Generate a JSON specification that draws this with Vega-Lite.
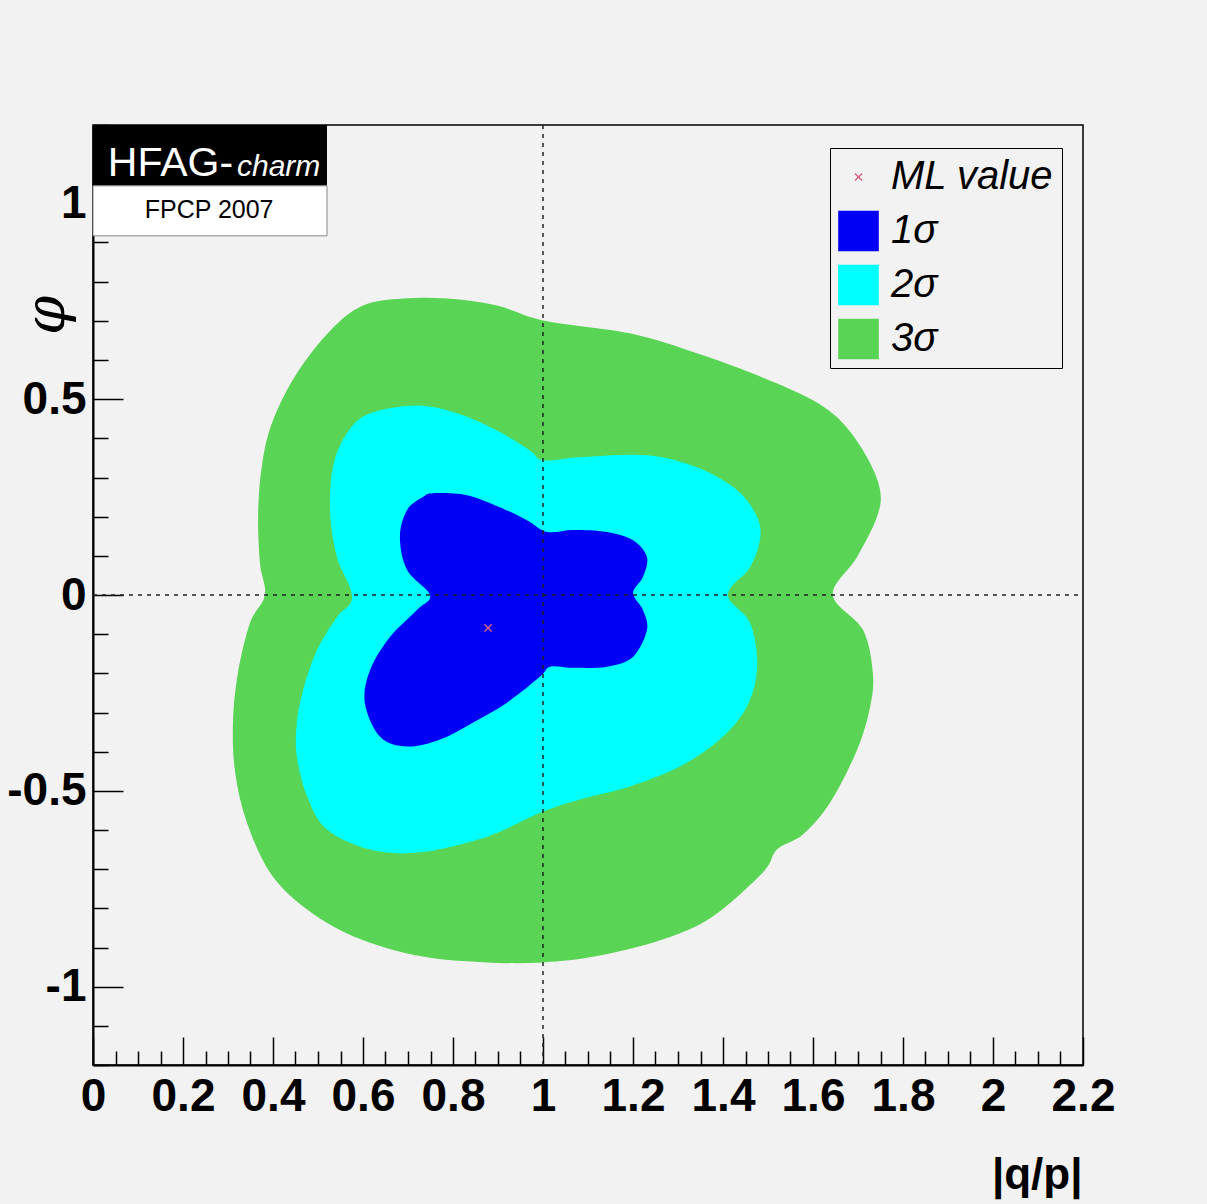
{
  "$schema": "https://vega.github.io/schema/vega-lite/v6.json",
  "width": 990,
  "height": 940,
  "autosize": {"type": "none"},
  "padding": {"left": 93, "top": 125, "right": 124, "bottom": 139},
  "background": "#f2f2f2",
  "config": {
    "view": {"stroke": "#000", "strokeWidth": 1.5, "fill": "#f2f2f2"},
    "font": "Liberation Sans",
    "legend": {
      "orient": "none", "legendX": 737, "legendY": 23,
      "fillColor": "#f2f2f2", "strokeColor": "#000", "padding": 8,
      "labelFont": "Liberation Sans", "labelFontSize": 40, "labelFontStyle": "italic", "labelColor": "#000",
      "labelOffset": 12, "labelLimit": 400,
      "symbolSize": 1650, "symbolStrokeWidth": 0, "symbolOpacity": 1,
      "rowPadding": 12, "clipHeight": 42
    }
  },
  "datasets": {
    "contours": [
      {"level": "3σ", "i": 0, "q": 0.689, "phi": 0.757},
      {"level": "3σ", "i": 1, "q": 0.787, "phi": 0.757},
      {"level": "3σ", "i": 2, "q": 0.898, "phi": 0.739},
      {"level": "3σ", "i": 3, "q": 1.0, "phi": 0.701},
      {"level": "3σ", "i": 4, "q": 1.193, "phi": 0.668},
      {"level": "3σ", "i": 5, "q": 1.342, "phi": 0.617},
      {"level": "3σ", "i": 6, "q": 1.489, "phi": 0.555},
      {"level": "3σ", "i": 7, "q": 1.6, "phi": 0.497},
      {"level": "3σ", "i": 8, "q": 1.667, "phi": 0.438},
      {"level": "3σ", "i": 9, "q": 1.72, "phi": 0.352},
      {"level": "3σ", "i": 10, "q": 1.749, "phi": 0.268},
      {"level": "3σ", "i": 11, "q": 1.742, "phi": 0.199},
      {"level": "3σ", "i": 12, "q": 1.698, "phi": 0.097},
      {"level": "3σ", "i": 13, "q": 1.644, "phi": 0.0},
      {"level": "3σ", "i": 14, "q": 1.711, "phi": -0.089},
      {"level": "3σ", "i": 15, "q": 1.733, "phi": -0.199},
      {"level": "3σ", "i": 16, "q": 1.727, "phi": -0.285},
      {"level": "3σ", "i": 17, "q": 1.698, "phi": -0.395},
      {"level": "3σ", "i": 18, "q": 1.638, "phi": -0.53},
      {"level": "3σ", "i": 19, "q": 1.578, "phi": -0.611},
      {"level": "3σ", "i": 20, "q": 1.52, "phi": -0.65},
      {"level": "3σ", "i": 21, "q": 1.489, "phi": -0.708},
      {"level": "3σ", "i": 22, "q": 1.378, "phi": -0.82},
      {"level": "3σ", "i": 23, "q": 1.267, "phi": -0.879},
      {"level": "3σ", "i": 24, "q": 1.12, "phi": -0.922},
      {"level": "3σ", "i": 25, "q": 1.0, "phi": -0.938},
      {"level": "3σ", "i": 26, "q": 0.876, "phi": -0.938},
      {"level": "3σ", "i": 27, "q": 0.727, "phi": -0.922},
      {"level": "3σ", "i": 28, "q": 0.578, "phi": -0.871},
      {"level": "3σ", "i": 29, "q": 0.467, "phi": -0.795},
      {"level": "3σ", "i": 30, "q": 0.393, "phi": -0.708},
      {"level": "3σ", "i": 31, "q": 0.342, "phi": -0.581},
      {"level": "3σ", "i": 32, "q": 0.316, "phi": -0.454},
      {"level": "3σ", "i": 33, "q": 0.311, "phi": -0.326},
      {"level": "3σ", "i": 34, "q": 0.322, "phi": -0.199},
      {"level": "3σ", "i": 35, "q": 0.349, "phi": -0.071},
      {"level": "3σ", "i": 36, "q": 0.382, "phi": 0.0},
      {"level": "3σ", "i": 37, "q": 0.371, "phi": 0.082},
      {"level": "3σ", "i": 38, "q": 0.367, "phi": 0.209},
      {"level": "3σ", "i": 39, "q": 0.376, "phi": 0.336},
      {"level": "3σ", "i": 40, "q": 0.4, "phi": 0.446},
      {"level": "3σ", "i": 41, "q": 0.453, "phi": 0.566},
      {"level": "3σ", "i": 42, "q": 0.527, "phi": 0.675},
      {"level": "3σ", "i": 43, "q": 0.6, "phi": 0.739},
      {"level": "2σ", "i": 0, "q": 0.72, "phi": 0.484},
      {"level": "2σ", "i": 1, "q": 0.809, "phi": 0.464},
      {"level": "2σ", "i": 2, "q": 0.898, "phi": 0.42},
      {"level": "2σ", "i": 3, "q": 0.971, "phi": 0.369},
      {"level": "2σ", "i": 4, "q": 1.0, "phi": 0.344},
      {"level": "2σ", "i": 5, "q": 1.082, "phi": 0.352},
      {"level": "2σ", "i": 6, "q": 1.231, "phi": 0.357},
      {"level": "2σ", "i": 7, "q": 1.342, "phi": 0.326},
      {"level": "2σ", "i": 8, "q": 1.431, "phi": 0.268},
      {"level": "2σ", "i": 9, "q": 1.476, "phi": 0.199},
      {"level": "2σ", "i": 10, "q": 1.482, "phi": 0.14},
      {"level": "2σ", "i": 11, "q": 1.46, "phi": 0.071},
      {"level": "2σ", "i": 12, "q": 1.411, "phi": 0.0},
      {"level": "2σ", "i": 13, "q": 1.46, "phi": -0.071},
      {"level": "2σ", "i": 14, "q": 1.476, "phi": -0.183},
      {"level": "2σ", "i": 15, "q": 1.453, "phi": -0.285},
      {"level": "2σ", "i": 16, "q": 1.393, "phi": -0.369},
      {"level": "2σ", "i": 17, "q": 1.304, "phi": -0.438},
      {"level": "2σ", "i": 18, "q": 1.193, "phi": -0.489},
      {"level": "2σ", "i": 19, "q": 1.082, "phi": -0.522},
      {"level": "2σ", "i": 20, "q": 1.0, "phi": -0.553},
      {"level": "2σ", "i": 21, "q": 0.876, "phi": -0.617},
      {"level": "2σ", "i": 22, "q": 0.727, "phi": -0.657},
      {"level": "2σ", "i": 23, "q": 0.616, "phi": -0.65},
      {"level": "2σ", "i": 24, "q": 0.52, "phi": -0.599},
      {"level": "2σ", "i": 25, "q": 0.476, "phi": -0.515},
      {"level": "2σ", "i": 26, "q": 0.453, "phi": -0.413},
      {"level": "2σ", "i": 27, "q": 0.453, "phi": -0.326},
      {"level": "2σ", "i": 28, "q": 0.467, "phi": -0.242},
      {"level": "2σ", "i": 29, "q": 0.498, "phi": -0.14},
      {"level": "2σ", "i": 30, "q": 0.542, "phi": -0.056},
      {"level": "2σ", "i": 31, "q": 0.576, "phi": -0.005},
      {"level": "2σ", "i": 32, "q": 0.542, "phi": 0.097},
      {"level": "2σ", "i": 33, "q": 0.527, "phi": 0.209},
      {"level": "2σ", "i": 34, "q": 0.533, "phi": 0.326},
      {"level": "2σ", "i": 35, "q": 0.564, "phi": 0.413},
      {"level": "2σ", "i": 36, "q": 0.616, "phi": 0.464},
      {"level": "1σ", "i": 0, "q": 0.756, "phi": 0.26},
      {"level": "1σ", "i": 1, "q": 0.831, "phi": 0.255},
      {"level": "1σ", "i": 2, "q": 0.904, "phi": 0.224},
      {"level": "1σ", "i": 3, "q": 0.964, "phi": 0.191},
      {"level": "1σ", "i": 4, "q": 1.009, "phi": 0.161},
      {"level": "1σ", "i": 5, "q": 1.067, "phi": 0.166},
      {"level": "1σ", "i": 6, "q": 1.142, "phi": 0.161},
      {"level": "1σ", "i": 7, "q": 1.2, "phi": 0.14},
      {"level": "1σ", "i": 8, "q": 1.231, "phi": 0.097},
      {"level": "1σ", "i": 9, "q": 1.222, "phi": 0.046},
      {"level": "1σ", "i": 10, "q": 1.2, "phi": 0.005},
      {"level": "1σ", "i": 11, "q": 1.222, "phi": -0.038},
      {"level": "1σ", "i": 12, "q": 1.231, "phi": -0.089},
      {"level": "1σ", "i": 13, "q": 1.2, "phi": -0.158},
      {"level": "1σ", "i": 14, "q": 1.142, "phi": -0.183},
      {"level": "1σ", "i": 15, "q": 1.067, "phi": -0.186},
      {"level": "1σ", "i": 16, "q": 1.016, "phi": -0.183},
      {"level": "1σ", "i": 17, "q": 0.993, "phi": -0.209},
      {"level": "1σ", "i": 18, "q": 0.92, "phi": -0.275},
      {"level": "1σ", "i": 19, "q": 0.844, "phi": -0.326},
      {"level": "1σ", "i": 20, "q": 0.771, "phi": -0.369},
      {"level": "1σ", "i": 21, "q": 0.698, "phi": -0.387},
      {"level": "1σ", "i": 22, "q": 0.638, "phi": -0.362},
      {"level": "1σ", "i": 23, "q": 0.604, "phi": -0.275},
      {"level": "1σ", "i": 24, "q": 0.616, "phi": -0.191},
      {"level": "1σ", "i": 25, "q": 0.66, "phi": -0.107},
      {"level": "1σ", "i": 26, "q": 0.72, "phi": -0.038},
      {"level": "1σ", "i": 27, "q": 0.749, "phi": 0.0},
      {"level": "1σ", "i": 28, "q": 0.698, "phi": 0.064},
      {"level": "1σ", "i": 29, "q": 0.682, "phi": 0.148},
      {"level": "1σ", "i": 30, "q": 0.698, "phi": 0.217},
      {"level": "1σ", "i": 31, "q": 0.733, "phi": 0.25}
    ],
    "ml": [{"level": "ML value", "q": 0.878, "phi": -0.084}],
    "vline": [{"q": 1, "phi": -1.2, "phi2": 1.2}],
    "hline": [{"q": 0, "q2": 2.2, "phi": 0}],
    "head": [{"q": 0, "q2": 0.52, "phi": 1.2, "phi2": 1.0446}],
    "foot": [{"q": 0, "q2": 0.52, "phi": 1.0446, "phi2": 0.917}],
    "hfag": [{"label": "HFAG-", "q": 0.033, "phi": 1.07}],
    "charm": [{"label": "charm", "q": 0.32, "phi": 1.07}],
    "fpcp": [{"label": "FPCP 2007", "q": 0.258, "phi": 0.962}]
  },
  "encoding": {
    "x": {
      "field": "q", "type": "quantitative",
      "scale": {"domain": [0, 2.2], "nice": false, "zero": false},
      "axis": {
        "title": "|q/p|",
        "values": [0,0.05,0.1,0.15,0.2,0.25,0.3,0.35,0.4,0.45,0.5,0.55,0.6,0.65,0.7,0.75,0.8,0.85,0.9,0.95,1,1.05,1.1,1.15,1.2,1.25,1.3,1.35,1.4,1.45,1.5,1.55,1.6,1.65,1.7,1.75,1.8,1.85,1.9,1.95,2,2.05,2.1,2.15,2.2],
        "labelExpr": "abs(datum.value*5-round(datum.value*5))<0.001 ? ('' + datum.value) : ''",
        "tickSize": {"condition": {"test": "abs(datum.value*5-round(datum.value*5))<0.001", "value": -28}, "value": -14},
        "tickColor": "#000", "tickWidth": 1.5,
        "domainColor": "#000", "domainWidth": 2,
        "grid": false,
        "labelFont": "Liberation Sans", "labelFontSize": 46, "labelFontWeight": "bold", "labelColor": "#000",
        "labelPadding": 37, "labelFlush": false, "labelOverlap": false, "labelBound": false,
        "titleFont": "Liberation Sans", "titleFontSize": 44, "titleFontWeight": "bold", "titleColor": "#000",
        "titleAnchor": "end", "titleAlign": "right", "titleBaseline": "alphabetic",
        "titleX": 989, "titleY": 123
      }
    },
    "y": {
      "field": "phi", "type": "quantitative",
      "scale": {"domain": [-1.2, 1.2], "nice": false, "zero": false},
      "axis": {
        "title": "φ",
        "values": [-1.2,-1.1,-1,-0.9,-0.8,-0.7,-0.6,-0.5,-0.4,-0.3,-0.2,-0.1,0,0.1,0.2,0.3,0.4,0.5,0.6,0.7,0.8,0.9,1,1.1,1.2],
        "labelExpr": "abs(datum.value*2-round(datum.value*2))<0.001 ? ('' + datum.value) : ''",
        "tickSize": {"condition": {"test": "abs(datum.value*2-round(datum.value*2))<0.001", "value": -30}, "value": -15},
        "tickColor": "#000", "tickWidth": 1.5,
        "domainColor": "#000", "domainWidth": 2,
        "grid": false,
        "labelFont": "Liberation Sans", "labelFontSize": 46, "labelFontWeight": "bold", "labelColor": "#000",
        "labelPadding": 37, "labelFlush": false, "labelOverlap": false, "labelBound": false,
        "titleFont": "DejaVu Serif", "titleFontSize": 56, "titleFontWeight": "normal", "titleFontStyle": "italic", "titleColor": "#000",
        "titleAngle": 270, "titleAlign": "center", "titleBaseline": "middle",
        "titleX": -47, "titleY": 190
      }
    }
  },
  "layer": [
    {
      "data": {"name": "contours"},
      "mark": {"type": "line", "interpolate": "cardinal-closed", "strokeWidth": 0},
      "encoding": {
        "fill": {
          "field": "level", "type": "nominal",
          "scale": {"domain": ["ML value", "1σ", "2σ", "3σ"], "range": ["#d86080", "#0000f5", "#00ffff", "#59d454"]},
          "legend": {"title": null}
        },
        "order": {"field": "i", "type": "quantitative"}
      }
    },
    {
      "data": {"name": "vline"},
      "mark": {"type": "rule", "color": "#222", "strokeDash": [4, 5], "strokeWidth": 1.5},
      "encoding": {"y2": {"field": "phi2"}}
    },
    {
      "data": {"name": "hline"},
      "mark": {"type": "rule", "color": "#222", "strokeDash": [4, 5], "strokeWidth": 1.5},
      "encoding": {"x2": {"field": "q2"}}
    },
    {
      "data": {"name": "ml"},
      "mark": {"type": "point", "size": 1650, "filled": true, "opacity": 1, "strokeWidth": 0},
      "encoding": {
        "fill": {
          "field": "level", "type": "nominal",
          "scale": {"domain": ["ML value", "1σ", "2σ", "3σ"], "range": ["#d86080", "#0000f5", "#00ffff", "#59d454"]},
          "legend": {"title": null}
        },
        "shape": {
          "field": "level", "type": "nominal",
          "scale": {"domain": ["ML value", "1σ", "2σ", "3σ"], "range": ["M-0.2,-0.15L-0.15,-0.2L0,-0.05L0.15,-0.2L0.2,-0.15L0.05,0L0.2,0.15L0.15,0.2L0,0.05L-0.15,0.2L-0.2,0.15L-0.05,0Z", "square", "square", "square"]},
          "legend": {"title": null}
        }
      }
    },
    {
      "data": {"name": "head"},
      "mark": {"type": "rect", "fill": "#000"},
      "encoding": {"x2": {"field": "q2"}, "y2": {"field": "phi2"}}
    },
    {
      "data": {"name": "foot"},
      "mark": {"type": "rect", "fill": "#fff", "stroke": "#888", "strokeWidth": 1},
      "encoding": {"x2": {"field": "q2"}, "y2": {"field": "phi2"}}
    },
    {
      "data": {"name": "hfag"},
      "mark": {"type": "text", "font": "Liberation Sans", "fontSize": 41, "color": "#fff", "align": "left", "baseline": "alphabetic"},
      "encoding": {"text": {"field": "label"}}
    },
    {
      "data": {"name": "charm"},
      "mark": {"type": "text", "font": "Liberation Sans", "fontSize": 30, "fontStyle": "italic", "color": "#fff", "align": "left", "baseline": "alphabetic"},
      "encoding": {"text": {"field": "label"}}
    },
    {
      "data": {"name": "fpcp"},
      "mark": {"type": "text", "font": "Liberation Sans", "fontSize": 25, "color": "#000", "align": "center", "baseline": "alphabetic"},
      "encoding": {"text": {"field": "label"}}
    }
  ]
}
